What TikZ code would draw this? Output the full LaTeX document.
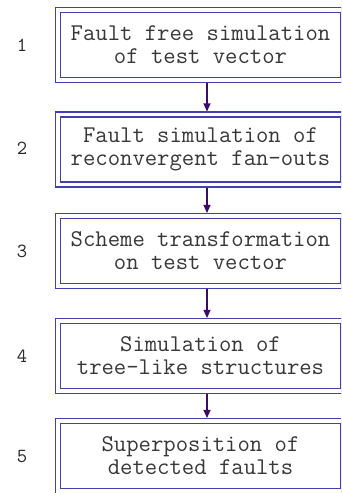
\documentclass[tikz,border=0pt]{standalone}
\usepackage{tikz}
\usetikzlibrary{positioning, arrows.meta}
\definecolor{framec}{RGB}{64,64,176}
\definecolor{arrowc}{RGB}{60,10,110}
\definecolor{textc}{RGB}{55,55,55}
\tikzset{
    stepbox/.style={draw=framec, double=white, line width=1.4pt, double distance=3.3pt,
        outer sep=3.05pt, minimum width=285pt, minimum height=70pt, inner sep=0pt,
        align=center, text=textc, font=\ttfamily\fontsize{24}{23}\selectfont},
    stepnum/.style={text=black!85, font=\ttfamily\fontsize{20}{22}\selectfont},
    flow/.style={draw=arrowc, line width=1.2pt, -{Triangle[width=7pt,length=8pt]}}
}
\begin{document}
\begin{tikzpicture}[x=1pt, y=-1pt]
            \useasboundingbox (0, 0) rectangle (341, 493);
            \clip (0, 0) rectangle (341, 493);

            \node [stepbox] (s1) at (200.5, 45) {Fault free simulation\\of test vector};
            \node [stepbox] (s2) at (200.5, 149.5) {Fault simulation of\\reconvergent fan-outs};
            \node [stepbox] (s3) at (200.5, 251) {Scheme transformation\\on test vector};
            \node [stepbox] (s4) at (200.5, 356) {Simulation of\\tree-like structures};
            \node [stepbox] (s5) at (200.5, 456) {Superposition of\\detected faults};

            \node [stepnum] (n1) at (22, 45) {1};
            \node [stepnum] (n2) at (22, 148) {2};
            \node [stepnum] (n3) at (22, 251) {3};
            \node [stepnum] (n4) at (22, 356) {4};
            \node [stepnum] (n5) at (22, 457) {5};

            \draw [flow] ([xshift=6.5pt]s1.south) -- ([xshift=6.5pt]s2.north);
            \draw [flow] ([xshift=6.5pt]s2.south) -- ([xshift=6.5pt]s3.north);
            \draw [flow] ([xshift=6.5pt]s3.south) -- ([xshift=6.5pt]s4.north);
            \draw [flow] ([xshift=6.5pt]s4.south) -- ([xshift=6.5pt]s5.north);
        \end{tikzpicture}
\end{document}
